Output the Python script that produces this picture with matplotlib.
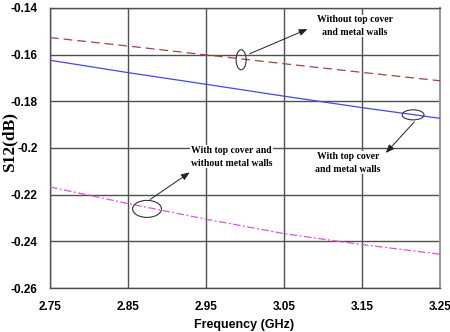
import numpy as np
import matplotlib
matplotlib.use('Agg')
import matplotlib.pyplot as plt
from matplotlib.patches import Ellipse

# Данные
freq = [2.75, 2.85, 2.95, 3.05, 3.15, 3.25]
s12_no_cover = [-0.1527, -0.1563, -0.1601, -0.1639, -0.1676, -0.1712]
s12_cover_walls = [-0.1624, -0.1677, -0.1727, -0.1778, -0.1827, -0.1873]
s12_cover_no_walls = [-0.2167, -0.2238, -0.2305, -0.2367, -0.2414, -0.2455]

xticks = [2.75, 2.85, 2.95, 3.05, 3.15, 3.25]
yticks = [-0.26, -0.24, -0.22, -0.2, -0.18, -0.16, -0.14]
ytick_labels = ['-0.26', '-0.24', '-0.22', '-0.2', '-0.18', '-0.16', '-0.14']

fig = plt.figure(figsize=(4.5, 3.32), dpi=100)
ax = fig.add_axes([0.111, 0.1325, 0.867, 0.8435])

grid_color = '#505050'
ax.plot(freq, s12_no_cover, color='#a8423c', lw=0.9, dashes=(7, 4), zorder=3)
ax.plot(freq, s12_cover_walls, color='#4646f0', lw=0.9, zorder=3)
ax.plot(freq, s12_cover_no_walls, color='#e050e8', lw=0.9, dashes=(6, 2, 1.5, 2), zorder=3)

ax.set_xlim(2.75, 3.25)
ax.set_ylim(-0.26, -0.14)
ax.set_xticks(xticks)
ax.set_xticklabels([f'{v:.2f}' for v in xticks])
ax.set_yticks(yticks)
ax.set_yticklabels(ytick_labels)
ax.tick_params(length=0, labelsize=8.5, pad=9)
for lab in ax.get_xticklabels() + ax.get_yticklabels():
    lab.set_fontweight('bold')
    lab.set_family('Liberation Sans')
ax.grid(True, color=grid_color, lw=1.0)
for sp in ax.spines.values():
    sp.set_color(grid_color)
    sp.set_linewidth(1.0)
ax.spines['right'].set_color('#999999')
ax.spines['right'].set_linewidth(1.5)

fig.text(0.022, 0.572, 'S12(dB)', rotation=90, ha='center', va='center',
         family='Liberation Serif', fontweight='bold', fontsize=12.5)
fig.text(0.543, 0.004, 'Frequency (GHz)', ha='center', va='bottom',
         family='Liberation Sans', fontweight='bold', fontsize=9)

# эллипсы и стрелки
ell_kw = dict(fill=False, edgecolor='#333333', lw=0.8, zorder=4)
ax.add_patch(Ellipse((2.995, -0.1622), 0.0128, 0.0086, **ell_kw))
ax.add_patch(Ellipse((3.2154, -0.1858), 0.028, 0.0043, **ell_kw))
ax.add_patch(Ellipse((2.8744, -0.2261), 0.037, 0.0073, **ell_kw))

arrow_kw = dict(arrowstyle='-|>,head_length=0.5,head_width=0.2', color='#222222', lw=0.7)
ax.annotate('', xy=(3.0833, -0.1486), xytext=(3.0026, -0.1601), arrowprops=arrow_kw, zorder=5)
ax.annotate('', xy=(3.178, -0.203), xytext=(3.2192, -0.188), arrowprops=arrow_kw, zorder=5)
ax.annotate('', xy=(2.932, -0.2098), xytext=(2.8756, -0.2227), arrowprops=arrow_kw, zorder=5)

txt_kw = dict(ha='center', va='center', family='Liberation Serif', fontweight='bold',
              fontsize=7, linespacing=1.5, zorder=6,
              bbox=dict(facecolor='white', edgecolor='none', pad=0.5))
ax.text(3.141, -0.1477, 'Without top cover\nand metal walls', **txt_kw)
ax.text(3.132, -0.2064, 'With top cover\nand metal walls', **txt_kw)
ax.text(2.983, -0.2038, 'With top cover and\nwithout metal walls', **txt_kw)

fig.savefig('out.png', dpi=100)
